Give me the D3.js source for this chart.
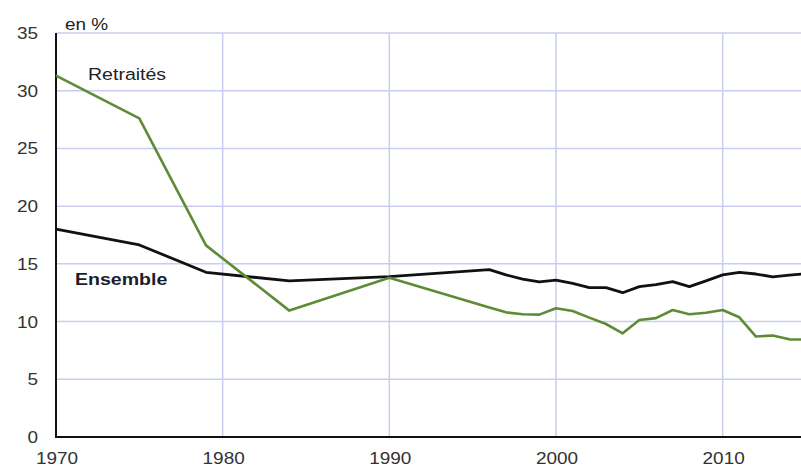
<!DOCTYPE html>
<html><head><meta charset="utf-8">
<script src="https://cdn.jsdelivr.net/npm/d3@7"></script>
<style>body{margin:0;background:#fff}svg{display:block}text{font-family:"Liberation Sans",Arial,sans-serif}</style>
</head><body>
<svg id="c" width="801" height="468"></svg>
<script>
const years = [1970,1975,1979,1984,1990,1996,1997,1998,1999,2000,2001,2002,2003,2004,2005,2006,2007,2008,2009,2010,2011,2012,2013,2014,2015];
const ensemble = [18.0,16.64,14.27,13.52,13.9,14.5,14.05,13.68,13.43,13.6,13.3,12.94,12.94,12.5,13.03,13.2,13.46,13.03,13.52,14.04,14.27,14.12,13.88,14.02,14.15];
const retraites = [31.3,27.6,16.6,10.95,13.8,11.22,10.8,10.63,10.6,11.15,10.92,10.34,9.79,8.98,10.14,10.3,11.0,10.63,10.77,11.0,10.37,8.7,8.8,8.46,8.45];
const yTicks = [0,5,10,15,20,25,30,35];
const xTicks = [1970,1980,1990,2000,2010];

const svg = d3.select("#c");
const x = d3.scaleLinear().domain([1970,2015]).range([56,806]);
const y = d3.scaleLinear().domain([0,35]).range([437,33]);
const SX = 1.15;

// grid
svg.append("g").selectAll("line").data(yTicks.filter(d=>d>0)).join("line")
  .attr("x1",56).attr("x2",801).attr("y1",d=>y(d)).attr("y2",d=>y(d))
  .attr("stroke","#c9cdf0").attr("stroke-width",1.5);
svg.append("g").selectAll("line").data(xTicks.filter(d=>d>1970)).join("line")
  .attr("x1",d=>x(d)).attr("x2",d=>x(d)).attr("y1",y(35)).attr("y2",y(0))
  .attr("stroke","#c9cdf0").attr("stroke-width",1.5);

// axes
svg.append("line").attr("x1",x(1970)).attr("x2",x(1970)).attr("y1",y(35)).attr("y2",y(0)+1)
  .attr("stroke","#111").attr("stroke-width",2);
svg.append("line").attr("x1",x(1970)-1).attr("x2",801).attr("y1",y(0)).attr("y2",y(0))
  .attr("stroke","#111").attr("stroke-width",2);

// tick labels
svg.append("g").selectAll("text").data(yTicks).join("text")
  .attr("transform",d=>`translate(38,${y(d)+6}) scale(${SX},1)`)
  .attr("text-anchor","end").attr("font-size",16.5).attr("fill","#333").text(d=>d);
svg.append("g").selectAll("text").data(xTicks).join("text")
  .attr("transform",d=>`translate(${x(d)+1},464) scale(${SX},1)`)
  .attr("text-anchor","middle").attr("font-size",16.5).attr("fill","#333").text(d=>d);

// lines
const line = vals => d3.line().x((d,i)=>x(years[i])).y(d=>y(d))(vals);
svg.append("path").attr("d",line(ensemble)).attr("fill","none")
  .attr("stroke","#111").attr("stroke-width",2.8).attr("stroke-linejoin","round");
svg.append("path").attr("d",line(retraites)).attr("fill","none")
  .attr("stroke","#5f8b36").attr("stroke-width",2.6).attr("stroke-linejoin","round");

// labels
svg.append("text").attr("transform",`translate(65,30) scale(${SX},1)`)
  .attr("font-size",16.5).attr("fill","#222").text("en %");
svg.append("text").attr("transform",`translate(88,80) scale(${SX},1)`)
  .attr("font-size",17).attr("fill","#222").text("Retraités");
svg.append("text").attr("transform",`translate(75,285) scale(${SX},1)`)
  .attr("font-size",17).attr("font-weight","bold").attr("fill","#1c1c2a").text("Ensemble");
</script>
</body></html>
